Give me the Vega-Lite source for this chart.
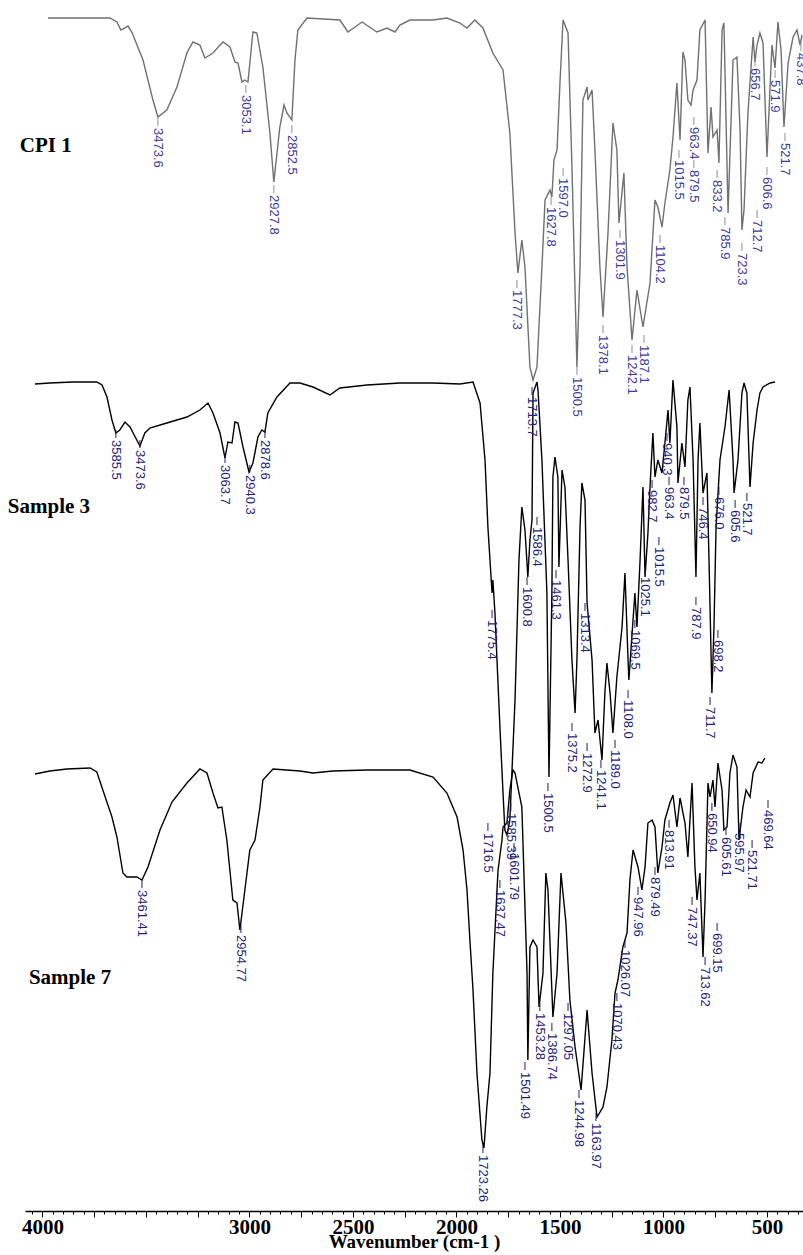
{
  "$schema": "https://vega.github.io/schema/vega-lite/v6.json",
  "width": 778,
  "height": 1211,
  "autosize": {"type": "none"},
  "padding": {"left": 25, "top": 0, "right": 0, "bottom": 44},
  "background": "white",
  "config": {"view": {"stroke": null}},
  "datasets": {
    "spectra": [
      {"s":"CPI 1","w":3973,"v":18},{"s":"CPI 1","w":3674,"v":18},{"s":"CPI 1","w":3640,"v":22},{"s":"CPI 1","w":3621,"v":30},{"s":"CPI 1","w":3601,"v":28},{"s":"CPI 1","w":3587,"v":26},{"s":"CPI 1","w":3568,"v":32},{"s":"CPI 1","w":3514,"v":60},{"s":"CPI 1","w":3466,"v":100},{"s":"CPI 1","w":3442,"v":117},{"s":"CPI 1","w":3399,"v":110},{"s":"CPI 1","w":3350,"v":87},{"s":"CPI 1","w":3302,"v":53},{"s":"CPI 1","w":3273,"v":42},{"s":"CPI 1","w":3239,"v":45},{"s":"CPI 1","w":3215,"v":58},{"s":"CPI 1","w":3176,"v":53},{"s":"CPI 1","w":3128,"v":42},{"s":"CPI 1","w":3094,"v":47},{"s":"CPI 1","w":3070,"v":62},{"s":"CPI 1","w":3055,"v":63},{"s":"CPI 1","w":3036,"v":82},{"s":"CPI 1","w":3022,"v":80},{"s":"CPI 1","w":3007,"v":82},{"s":"CPI 1","w":2983,"v":32},{"s":"CPI 1","w":2964,"v":33},{"s":"CPI 1","w":2935,"v":67},{"s":"CPI 1","w":2901,"v":133},{"s":"CPI 1","w":2882,"v":182},{"s":"CPI 1","w":2853,"v":127},{"s":"CPI 1","w":2833,"v":105},{"s":"CPI 1","w":2819,"v":113},{"s":"CPI 1","w":2795,"v":120},{"s":"CPI 1","w":2780,"v":60},{"s":"CPI 1","w":2766,"v":30},{"s":"CPI 1","w":2722,"v":18},{"s":"CPI 1","w":2563,"v":20},{"s":"CPI 1","w":2524,"v":32},{"s":"CPI 1","w":2456,"v":22},{"s":"CPI 1","w":2384,"v":32},{"s":"CPI 1","w":2336,"v":28},{"s":"CPI 1","w":2297,"v":32},{"s":"CPI 1","w":2273,"v":25},{"s":"CPI 1","w":2225,"v":20},{"s":"CPI 1","w":2113,"v":20},{"s":"CPI 1","w":2046,"v":18},{"s":"CPI 1","w":1983,"v":23},{"s":"CPI 1","w":1949,"v":28},{"s":"CPI 1","w":1911,"v":20},{"s":"CPI 1","w":1872,"v":28},{"s":"CPI 1","w":1824,"v":53},{"s":"CPI 1","w":1775,"v":70},{"s":"CPI 1","w":1742,"v":133},{"s":"CPI 1","w":1717,"v":233},{"s":"CPI 1","w":1703,"v":273},{"s":"CPI 1","w":1684,"v":240},{"s":"CPI 1","w":1669,"v":267},{"s":"CPI 1","w":1645,"v":367},{"s":"CPI 1","w":1630,"v":380},{"s":"CPI 1","w":1611,"v":367},{"s":"CPI 1","w":1587,"v":267},{"s":"CPI 1","w":1572,"v":200},{"s":"CPI 1","w":1548,"v":190},{"s":"CPI 1","w":1539,"v":197},{"s":"CPI 1","w":1529,"v":160},{"s":"CPI 1","w":1514,"v":150},{"s":"CPI 1","w":1500,"v":83},{"s":"CPI 1","w":1485,"v":20},{"s":"CPI 1","w":1461,"v":33},{"s":"CPI 1","w":1442,"v":167},{"s":"CPI 1","w":1418,"v":367},{"s":"CPI 1","w":1403,"v":267},{"s":"CPI 1","w":1389,"v":100},{"s":"CPI 1","w":1369,"v":87},{"s":"CPI 1","w":1365,"v":100},{"s":"CPI 1","w":1345,"v":90},{"s":"CPI 1","w":1331,"v":150},{"s":"CPI 1","w":1307,"v":267},{"s":"CPI 1","w":1292,"v":317},{"s":"CPI 1","w":1268,"v":233},{"s":"CPI 1","w":1244,"v":123},{"s":"CPI 1","w":1225,"v":150},{"s":"CPI 1","w":1215,"v":223},{"s":"CPI 1","w":1191,"v":173},{"s":"CPI 1","w":1176,"v":267},{"s":"CPI 1","w":1152,"v":340},{"s":"CPI 1","w":1128,"v":290},{"s":"CPI 1","w":1099,"v":327},{"s":"CPI 1","w":1065,"v":283},{"s":"CPI 1","w":1041,"v":200},{"s":"CPI 1","w":1027,"v":207},{"s":"CPI 1","w":1007,"v":227},{"s":"CPI 1","w":993,"v":203},{"s":"CPI 1","w":969,"v":170},{"s":"CPI 1","w":954,"v":137},{"s":"CPI 1","w":935,"v":83},{"s":"CPI 1","w":920,"v":140},{"s":"CPI 1","w":906,"v":52},{"s":"CPI 1","w":896,"v":60},{"s":"CPI 1","w":882,"v":100},{"s":"CPI 1","w":867,"v":105},{"s":"CPI 1","w":857,"v":90},{"s":"CPI 1","w":838,"v":80},{"s":"CPI 1","w":824,"v":30},{"s":"CPI 1","w":799,"v":20},{"s":"CPI 1","w":785,"v":153},{"s":"CPI 1","w":770,"v":107},{"s":"CPI 1","w":761,"v":137},{"s":"CPI 1","w":741,"v":130},{"s":"CPI 1","w":732,"v":163},{"s":"CPI 1","w":717,"v":30},{"s":"CPI 1","w":708,"v":23},{"s":"CPI 1","w":688,"v":213},{"s":"CPI 1","w":664,"v":60},{"s":"CPI 1","w":645,"v":57},{"s":"CPI 1","w":630,"v":130},{"s":"CPI 1","w":621,"v":230},{"s":"CPI 1","w":611,"v":210},{"s":"CPI 1","w":592,"v":113},{"s":"CPI 1","w":567,"v":37},{"s":"CPI 1","w":558,"v":62},{"s":"CPI 1","w":548,"v":45},{"s":"CPI 1","w":534,"v":33},{"s":"CPI 1","w":519,"v":43},{"s":"CPI 1","w":500,"v":157},{"s":"CPI 1","w":476,"v":45},{"s":"CPI 1","w":461,"v":68},{"s":"CPI 1","w":447,"v":22},{"s":"CPI 1","w":432,"v":50},{"s":"CPI 1","w":418,"v":127},{"s":"CPI 1","w":398,"v":63},{"s":"CPI 1","w":374,"v":37},{"s":"CPI 1","w":355,"v":30},{"s":"CPI 1","w":340,"v":45},{"s":"CPI 1","w":331,"v":35},

      {"s":"Sample 3","w":4036,"v":384},{"s":"Sample 3","w":3964,"v":383},{"s":"Sample 3","w":3853,"v":382},{"s":"Sample 3","w":3737,"v":382},{"s":"Sample 3","w":3712,"v":385},{"s":"Sample 3","w":3688,"v":397},{"s":"Sample 3","w":3664,"v":420},{"s":"Sample 3","w":3645,"v":433},{"s":"Sample 3","w":3626,"v":430},{"s":"Sample 3","w":3601,"v":422},{"s":"Sample 3","w":3577,"v":427},{"s":"Sample 3","w":3544,"v":440},{"s":"Sample 3","w":3529,"v":446},{"s":"Sample 3","w":3505,"v":433},{"s":"Sample 3","w":3481,"v":428},{"s":"Sample 3","w":3399,"v":423},{"s":"Sample 3","w":3302,"v":417},{"s":"Sample 3","w":3239,"v":410},{"s":"Sample 3","w":3200,"v":403},{"s":"Sample 3","w":3176,"v":413},{"s":"Sample 3","w":3142,"v":433},{"s":"Sample 3","w":3118,"v":458},{"s":"Sample 3","w":3104,"v":442},{"s":"Sample 3","w":3084,"v":443},{"s":"Sample 3","w":3070,"v":422},{"s":"Sample 3","w":3055,"v":423},{"s":"Sample 3","w":3031,"v":447},{"s":"Sample 3","w":3002,"v":472},{"s":"Sample 3","w":2983,"v":463},{"s":"Sample 3","w":2959,"v":437},{"s":"Sample 3","w":2940,"v":430},{"s":"Sample 3","w":2925,"v":432},{"s":"Sample 3","w":2911,"v":413},{"s":"Sample 3","w":2867,"v":397},{"s":"Sample 3","w":2804,"v":383},{"s":"Sample 3","w":2756,"v":383},{"s":"Sample 3","w":2693,"v":387},{"s":"Sample 3","w":2611,"v":395},{"s":"Sample 3","w":2563,"v":388},{"s":"Sample 3","w":2432,"v":385},{"s":"Sample 3","w":2273,"v":383},{"s":"Sample 3","w":2113,"v":383},{"s":"Sample 3","w":1983,"v":384},{"s":"Sample 3","w":1920,"v":382},{"s":"Sample 3","w":1886,"v":403},{"s":"Sample 3","w":1862,"v":460},{"s":"Sample 3","w":1848,"v":527},{"s":"Sample 3","w":1828,"v":593},{"s":"Sample 3","w":1824,"v":580},{"s":"Sample 3","w":1814,"v":613},{"s":"Sample 3","w":1790,"v":727},{"s":"Sample 3","w":1775,"v":793},{"s":"Sample 3","w":1766,"v":830},{"s":"Sample 3","w":1756,"v":835},{"s":"Sample 3","w":1742,"v":820},{"s":"Sample 3","w":1717,"v":700},{"s":"Sample 3","w":1698,"v":560},{"s":"Sample 3","w":1684,"v":507},{"s":"Sample 3","w":1669,"v":530},{"s":"Sample 3","w":1655,"v":577},{"s":"Sample 3","w":1645,"v":540},{"s":"Sample 3","w":1635,"v":520},{"s":"Sample 3","w":1630,"v":393},{"s":"Sample 3","w":1611,"v":382},{"s":"Sample 3","w":1606,"v":390},{"s":"Sample 3","w":1587,"v":460},{"s":"Sample 3","w":1563,"v":593},{"s":"Sample 3","w":1553,"v":777},{"s":"Sample 3","w":1539,"v":593},{"s":"Sample 3","w":1534,"v":477},{"s":"Sample 3","w":1524,"v":457},{"s":"Sample 3","w":1510,"v":477},{"s":"Sample 3","w":1505,"v":567},{"s":"Sample 3","w":1490,"v":470},{"s":"Sample 3","w":1476,"v":487},{"s":"Sample 3","w":1461,"v":560},{"s":"Sample 3","w":1442,"v":660},{"s":"Sample 3","w":1427,"v":713},{"s":"Sample 3","w":1418,"v":660},{"s":"Sample 3","w":1403,"v":527},{"s":"Sample 3","w":1394,"v":483},{"s":"Sample 3","w":1379,"v":500},{"s":"Sample 3","w":1369,"v":603},{"s":"Sample 3","w":1345,"v":660},{"s":"Sample 3","w":1331,"v":733},{"s":"Sample 3","w":1316,"v":720},{"s":"Sample 3","w":1297,"v":760},{"s":"Sample 3","w":1283,"v":693},{"s":"Sample 3","w":1273,"v":663},{"s":"Sample 3","w":1258,"v":693},{"s":"Sample 3","w":1244,"v":733},{"s":"Sample 3","w":1225,"v":677},{"s":"Sample 3","w":1200,"v":627},{"s":"Sample 3","w":1186,"v":573},{"s":"Sample 3","w":1171,"v":660},{"s":"Sample 3","w":1167,"v":680},{"s":"Sample 3","w":1147,"v":620},{"s":"Sample 3","w":1138,"v":593},{"s":"Sample 3","w":1128,"v":627},{"s":"Sample 3","w":1113,"v":560},{"s":"Sample 3","w":1099,"v":487},{"s":"Sample 3","w":1089,"v":577},{"s":"Sample 3","w":1075,"v":533},{"s":"Sample 3","w":1065,"v":487},{"s":"Sample 3","w":1051,"v":433},{"s":"Sample 3","w":1041,"v":477},{"s":"Sample 3","w":1027,"v":460},{"s":"Sample 3","w":1007,"v":473},{"s":"Sample 3","w":993,"v":443},{"s":"Sample 3","w":978,"v":410},{"s":"Sample 3","w":969,"v":443},{"s":"Sample 3","w":954,"v":380},{"s":"Sample 3","w":935,"v":427},{"s":"Sample 3","w":930,"v":483},{"s":"Sample 3","w":911,"v":443},{"s":"Sample 3","w":896,"v":467},{"s":"Sample 3","w":882,"v":400},{"s":"Sample 3","w":872,"v":387},{"s":"Sample 3","w":857,"v":460},{"s":"Sample 3","w":843,"v":577},{"s":"Sample 3","w":833,"v":460},{"s":"Sample 3","w":824,"v":423},{"s":"Sample 3","w":809,"v":493},{"s":"Sample 3","w":790,"v":473},{"s":"Sample 3","w":780,"v":560},{"s":"Sample 3","w":766,"v":693},{"s":"Sample 3","w":756,"v":627},{"s":"Sample 3","w":746,"v":527},{"s":"Sample 3","w":727,"v":460},{"s":"Sample 3","w":703,"v":427},{"s":"Sample 3","w":683,"v":390},{"s":"Sample 3","w":664,"v":460},{"s":"Sample 3","w":659,"v":493},{"s":"Sample 3","w":640,"v":460},{"s":"Sample 3","w":621,"v":393},{"s":"Sample 3","w":611,"v":383},{"s":"Sample 3","w":597,"v":393},{"s":"Sample 3","w":582,"v":487},{"s":"Sample 3","w":567,"v":443},{"s":"Sample 3","w":548,"v":410},{"s":"Sample 3","w":534,"v":393},{"s":"Sample 3","w":519,"v":387},{"s":"Sample 3","w":485,"v":383},{"s":"Sample 3","w":461,"v":382},

      {"s":"Sample 7","w":4036,"v":774},{"s":"Sample 7","w":3964,"v":771},{"s":"Sample 7","w":3882,"v":769},{"s":"Sample 7","w":3770,"v":768},{"s":"Sample 7","w":3737,"v":772},{"s":"Sample 7","w":3708,"v":790},{"s":"Sample 7","w":3664,"v":817},{"s":"Sample 7","w":3640,"v":837},{"s":"Sample 7","w":3611,"v":873},{"s":"Sample 7","w":3592,"v":877},{"s":"Sample 7","w":3544,"v":877},{"s":"Sample 7","w":3519,"v":880},{"s":"Sample 7","w":3490,"v":867},{"s":"Sample 7","w":3432,"v":830},{"s":"Sample 7","w":3374,"v":802},{"s":"Sample 7","w":3302,"v":783},{"s":"Sample 7","w":3239,"v":769},{"s":"Sample 7","w":3205,"v":773},{"s":"Sample 7","w":3176,"v":793},{"s":"Sample 7","w":3152,"v":808},{"s":"Sample 7","w":3133,"v":807},{"s":"Sample 7","w":3109,"v":840},{"s":"Sample 7","w":3080,"v":900},{"s":"Sample 7","w":3060,"v":903},{"s":"Sample 7","w":3046,"v":930},{"s":"Sample 7","w":3022,"v":890},{"s":"Sample 7","w":2998,"v":850},{"s":"Sample 7","w":2973,"v":840},{"s":"Sample 7","w":2949,"v":807},{"s":"Sample 7","w":2935,"v":780},{"s":"Sample 7","w":2886,"v":769},{"s":"Sample 7","w":2756,"v":771},{"s":"Sample 7","w":2693,"v":773},{"s":"Sample 7","w":2597,"v":771},{"s":"Sample 7","w":2432,"v":770},{"s":"Sample 7","w":2225,"v":770},{"s":"Sample 7","w":2113,"v":777},{"s":"Sample 7","w":2046,"v":793},{"s":"Sample 7","w":1997,"v":817},{"s":"Sample 7","w":1968,"v":850},{"s":"Sample 7","w":1949,"v":890},{"s":"Sample 7","w":1935,"v":940},{"s":"Sample 7","w":1920,"v":990},{"s":"Sample 7","w":1901,"v":1073},{"s":"Sample 7","w":1877,"v":1140},{"s":"Sample 7","w":1867,"v":1148},{"s":"Sample 7","w":1853,"v":1107},{"s":"Sample 7","w":1838,"v":1073},{"s":"Sample 7","w":1824,"v":973},{"s":"Sample 7","w":1804,"v":890},{"s":"Sample 7","w":1799,"v":870},{"s":"Sample 7","w":1780,"v":840},{"s":"Sample 7","w":1775,"v":827},{"s":"Sample 7","w":1756,"v":823},{"s":"Sample 7","w":1742,"v":790},{"s":"Sample 7","w":1727,"v":770},{"s":"Sample 7","w":1717,"v":773},{"s":"Sample 7","w":1684,"v":807},{"s":"Sample 7","w":1669,"v":907},{"s":"Sample 7","w":1659,"v":973},{"s":"Sample 7","w":1655,"v":1060},{"s":"Sample 7","w":1645,"v":947},{"s":"Sample 7","w":1630,"v":940},{"s":"Sample 7","w":1611,"v":947},{"s":"Sample 7","w":1601,"v":1007},{"s":"Sample 7","w":1582,"v":973},{"s":"Sample 7","w":1568,"v":873},{"s":"Sample 7","w":1558,"v":890},{"s":"Sample 7","w":1534,"v":1017},{"s":"Sample 7","w":1514,"v":973},{"s":"Sample 7","w":1495,"v":873},{"s":"Sample 7","w":1471,"v":923},{"s":"Sample 7","w":1452,"v":1000},{"s":"Sample 7","w":1427,"v":1047},{"s":"Sample 7","w":1398,"v":1090},{"s":"Sample 7","w":1369,"v":1010},{"s":"Sample 7","w":1345,"v":1073},{"s":"Sample 7","w":1321,"v":1117},{"s":"Sample 7","w":1292,"v":1107},{"s":"Sample 7","w":1273,"v":1087},{"s":"Sample 7","w":1249,"v":1040},{"s":"Sample 7","w":1234,"v":993},{"s":"Sample 7","w":1220,"v":980},{"s":"Sample 7","w":1196,"v":947},{"s":"Sample 7","w":1176,"v":933},{"s":"Sample 7","w":1162,"v":880},{"s":"Sample 7","w":1147,"v":850},{"s":"Sample 7","w":1123,"v":867},{"s":"Sample 7","w":1104,"v":890},{"s":"Sample 7","w":1089,"v":867},{"s":"Sample 7","w":1075,"v":823},{"s":"Sample 7","w":1055,"v":820},{"s":"Sample 7","w":1041,"v":827},{"s":"Sample 7","w":1027,"v":873},{"s":"Sample 7","w":1007,"v":847},{"s":"Sample 7","w":993,"v":820},{"s":"Sample 7","w":969,"v":803},{"s":"Sample 7","w":954,"v":795},{"s":"Sample 7","w":935,"v":827},{"s":"Sample 7","w":920,"v":798},{"s":"Sample 7","w":896,"v":823},{"s":"Sample 7","w":882,"v":857},{"s":"Sample 7","w":862,"v":783},{"s":"Sample 7","w":848,"v":867},{"s":"Sample 7","w":838,"v":900},{"s":"Sample 7","w":824,"v":873},{"s":"Sample 7","w":809,"v":957},{"s":"Sample 7","w":799,"v":900},{"s":"Sample 7","w":785,"v":783},{"s":"Sample 7","w":775,"v":797},{"s":"Sample 7","w":761,"v":780},{"s":"Sample 7","w":751,"v":807},{"s":"Sample 7","w":737,"v":763},{"s":"Sample 7","w":717,"v":790},{"s":"Sample 7","w":708,"v":830},{"s":"Sample 7","w":693,"v":827},{"s":"Sample 7","w":679,"v":773},{"s":"Sample 7","w":664,"v":755},{"s":"Sample 7","w":645,"v":767},{"s":"Sample 7","w":635,"v":840},{"s":"Sample 7","w":616,"v":807},{"s":"Sample 7","w":601,"v":790},{"s":"Sample 7","w":582,"v":797},{"s":"Sample 7","w":567,"v":773},{"s":"Sample 7","w":543,"v":762},{"s":"Sample 7","w":524,"v":763},{"s":"Sample 7","w":510,"v":758}
    ],
    "peaks": [
      {"s":"CPI 1","w":3442,"v":118,"t":"3473.6"},{"s":"CPI 1","w":3017,"v":85,"t":"3053.1"},{"s":"CPI 1","w":2882,"v":185,"t":"2927.8"},{"s":"CPI 1","w":2795,"v":125,"t":"2852.5"},{"s":"CPI 1","w":1708,"v":280,"t":"1777.3"},{"s":"CPI 1","w":1543,"v":197,"t":"1627.8"},{"s":"CPI 1","w":1485,"v":168,"t":"1597.0"},{"s":"CPI 1","w":1418,"v":367,"t":"1500.5"},{"s":"CPI 1","w":1292,"v":325,"t":"1378.1"},{"s":"CPI 1","w":1210,"v":230,"t":"1301.9"},{"s":"CPI 1","w":1152,"v":345,"t":"1242.1"},{"s":"CPI 1","w":1094,"v":335,"t":"1187.1"},{"s":"CPI 1","w":1017,"v":235,"t":"1104.2"},{"s":"CPI 1","w":925,"v":150,"t":"1015.5"},{"s":"CPI 1","w":853,"v":117,"t":"963.4"},{"s":"CPI 1","w":853,"v":160,"t":"879.5"},{"s":"CPI 1","w":741,"v":170,"t":"833.2"},{"s":"CPI 1","w":703,"v":217,"t":"785.9"},{"s":"CPI 1","w":621,"v":243,"t":"723.3"},{"s":"CPI 1","w":548,"v":210,"t":"712.7"},{"s":"CPI 1","w":500,"v":167,"t":"606.6"},{"s":"CPI 1","w":558,"v":58,"t":"656.7"},{"s":"CPI 1","w":461,"v":70,"t":"571.9"},{"s":"CPI 1","w":413,"v":133,"t":"521.7"},{"s":"CPI 1","w":336,"v":43,"t":"437.8"},
      {"s":"Sample 3","w":3645,"v":430,"t":"3585.5"},{"s":"Sample 3","w":3529,"v":440,"t":"3473.6"},{"s":"Sample 3","w":3118,"v":455,"t":"3063.7"},{"s":"Sample 3","w":2998,"v":465,"t":"2940.3"},{"s":"Sample 3","w":2925,"v":430,"t":"2878.6"},{"s":"Sample 3","w":1828,"v":610,"t":"1775.4"},{"s":"Sample 3","w":1635,"v":387,"t":"1713.7"},{"s":"Sample 3","w":1611,"v":517,"t":"1586.4"},{"s":"Sample 3","w":1659,"v":577,"t":"1600.8"},{"s":"Sample 3","w":1519,"v":570,"t":"1461.3"},{"s":"Sample 3","w":1558,"v":783,"t":"1500.5"},{"s":"Sample 3","w":1442,"v":723,"t":"1375.2"},{"s":"Sample 3","w":1379,"v":603,"t":"1313.4"},{"s":"Sample 3","w":1369,"v":743,"t":"1272.9"},{"s":"Sample 3","w":1302,"v":760,"t":"1241.1"},{"s":"Sample 3","w":1234,"v":740,"t":"1189.0"},{"s":"Sample 3","w":1171,"v":690,"t":"1108.0"},{"s":"Sample 3","w":1138,"v":620,"t":"1069.5"},{"s":"Sample 3","w":1089,"v":567,"t":"1025.1"},{"s":"Sample 3","w":1022,"v":537,"t":"1015.5"},{"s":"Sample 3","w":1055,"v":480,"t":"982.7"},{"s":"Sample 3","w":973,"v":477,"t":"963.4"},{"s":"Sample 3","w":983,"v":433,"t":"940.3"},{"s":"Sample 3","w":901,"v":477,"t":"879.5"},{"s":"Sample 3","w":843,"v":597,"t":"787.9"},{"s":"Sample 3","w":809,"v":497,"t":"746.4"},{"s":"Sample 3","w":732,"v":487,"t":"676.0"},{"s":"Sample 3","w":737,"v":630,"t":"698.2"},{"s":"Sample 3","w":775,"v":697,"t":"711.7"},{"s":"Sample 3","w":654,"v":500,"t":"605.6"},{"s":"Sample 3","w":597,"v":493,"t":"521.7"},
      {"s":"Sample 7","w":3519,"v":880,"t":"3461.41"},{"s":"Sample 7","w":3041,"v":925,"t":"2954.77"},{"s":"Sample 7","w":1848,"v":823,"t":"1716.5"},{"s":"Sample 7","w":1737,"v":803,"t":"1585.39"},{"s":"Sample 7","w":1722,"v":843,"t":"1601.79"},{"s":"Sample 7","w":1790,"v":880,"t":"1637.47"},{"s":"Sample 7","w":1872,"v":1145,"t":"1723.26"},{"s":"Sample 7","w":1669,"v":1062,"t":"1501.49"},{"s":"Sample 7","w":1597,"v":1003,"t":"1453.28"},{"s":"Sample 7","w":1539,"v":1023,"t":"1386.74"},{"s":"Sample 7","w":1461,"v":1003,"t":"1297.05"},{"s":"Sample 7","w":1408,"v":1090,"t":"1244.98"},{"s":"Sample 7","w":1326,"v":1113,"t":"1163.97"},{"s":"Sample 7","w":1225,"v":993,"t":"1070.43"},{"s":"Sample 7","w":1186,"v":940,"t":"1026.07"},{"s":"Sample 7","w":1123,"v":887,"t":"947.96"},{"s":"Sample 7","w":1041,"v":867,"t":"879.49"},{"s":"Sample 7","w":973,"v":820,"t":"813.91"},{"s":"Sample 7","w":862,"v":897,"t":"747.37"},{"s":"Sample 7","w":799,"v":957,"t":"713.62"},{"s":"Sample 7","w":741,"v":923,"t":"699.15"},{"s":"Sample 7","w":766,"v":803,"t":"650.94"},{"s":"Sample 7","w":698,"v":827,"t":"605.61"},{"s":"Sample 7","w":635,"v":823,"t":"595.97"},{"s":"Sample 7","w":572,"v":840,"t":"521.71"},{"s":"Sample 7","w":495,"v":800,"t":"469.64"}
    ],
    "names": [
      {"w":4109,"v":152,"t":"CPI 1"},
      {"w":4167,"v":513,"t":"Sample 3"},
      {"w":4065,"v":984,"t":"Sample 7"}
    ]
  },
  "encoding": {
    "x": {
      "field": "w", "type": "quantitative",
      "scale": {"domain": [326, 4084], "reverse": true, "nice": false, "zero": false},
      "axis": {
        "values": [350,400,450,500,550,600,650,700,750,800,850,900,950,1000,1050,1100,1150,1200,1250,1300,1350,1400,1450,1500,1550,1600,1650,1700,1750,1800,1850,1900,1950,2000,2050,2100,2150,2200,2250,2300,2350,2400,2450,2500,2550,2600,2650,2700,2750,2800,2850,2900,2950,3000,3050,3100,3150,3200,3250,3300,3350,3400,3450,3500,3550,3600,3650,3700,3750,3800,3850,3900,3950,4000,4050],
        "format": "d",
        "labelExpr": "(datum.value % 500 === 0 && datum.value !== 3500) ? datum.label : ''",
        "tickSize": {"condition": {"test": "datum.value % 250 === 0", "value": 6}, "value": 3},
        "tickColor": "black", "tickWidth": 1,
        "domainColor": "black", "domainWidth": 1.5,
        "grid": false,
        "labelFont": "Liberation Serif", "labelFontSize": 21, "labelFontWeight": "bold", "labelColor": "black",
        "labelOverlap": false, "labelPadding": -1, "labelFlush": false, "labelBound": false,
        "title": "Wavenumber (cm-1 )",
        "titleFont": "Liberation Serif", "titleFontSize": 19, "titleFontWeight": "bold", "titleColor": "black",
        "titlePadding": -5
      }
    },
    "y": {
      "field": "v", "type": "quantitative",
      "scale": {"domain": [0, 1211], "reverse": true, "nice": false, "zero": false},
      "axis": null
    }
  },
  "layer": [
    {
      "data": {"name": "spectra"},
      "mark": {"type": "line", "strokeWidth": 1.4},
      "encoding": {
        "color": {"field": "s", "type": "nominal", "scale": {"domain": ["CPI 1", "Sample 3", "Sample 7"], "range": ["#707070", "#000000", "#000000"]}, "legend": null}
      }
    },
    {
      "data": {"name": "peaks"},
      "transform": [{"filter": "datum.s === 'CPI 1'"}],
      "mark": {"type": "rule", "color": "#8c8cae", "strokeWidth": 1, "y2Offset": 8},
      "encoding": {"y2": {"field": "v"}}
    },
    {
      "data": {"name": "peaks"},
      "transform": [{"filter": "datum.s !== 'CPI 1'"}],
      "mark": {"type": "rule", "color": "#1e1e78", "strokeWidth": 1, "y2Offset": 8},
      "encoding": {"y2": {"field": "v"}}
    },
    {
      "data": {"name": "peaks"},
      "transform": [{"filter": "datum.s === 'CPI 1'"}],
      "mark": {"type": "text", "angle": 90, "align": "left", "baseline": "middle", "yOffset": 10, "font": "Liberation Sans", "fontSize": 13, "color": "#3c3c9c"},
      "encoding": {"text": {"field": "t"}}
    },
    {
      "data": {"name": "peaks"},
      "transform": [{"filter": "datum.s !== 'CPI 1'"}],
      "mark": {"type": "text", "angle": 90, "align": "left", "baseline": "middle", "yOffset": 10, "font": "Liberation Sans", "fontSize": 13, "color": "#1e1e7c"},
      "encoding": {"text": {"field": "t"}}
    },
    {
      "data": {"name": "names"},
      "mark": {"type": "text", "align": "left", "baseline": "alphabetic", "font": "Liberation Serif", "fontSize": 21, "fontWeight": "bold", "color": "black"},
      "encoding": {"text": {"field": "t"}}
    }
  ]
}
